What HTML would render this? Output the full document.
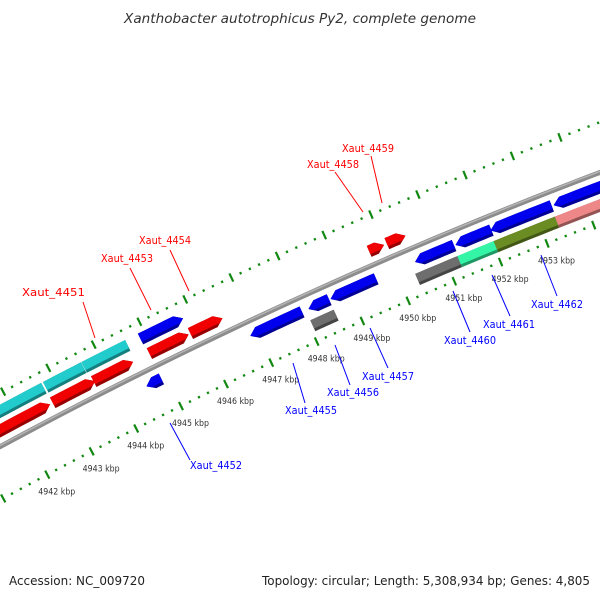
<!DOCTYPE html>
<html><head><meta charset="utf-8"><style>
html,body{margin:0;padding:0;background:#fff;width:600px;height:600px;overflow:hidden}
svg{display:block}
text{font-family:"DejaVu Sans","Liberation Sans",sans-serif}
</style></head><body>
<svg id="map" width="600" height="600" viewBox="0 0 600 600" xmlns="http://www.w3.org/2000/svg">
<rect width="600" height="600" fill="#fff"/>
<text x="300" y="23" text-anchor="middle" font-style="italic" font-size="13" fill="#333" textLength="352" lengthAdjust="spacingAndGlyphs">Xanthobacter autotrophicus Py2, complete genome</text>
<g id="ticks"></g>
<g id="backbone"></g>
<g id="features"></g>
<g id="labels"></g>
<text x="9" y="585" font-size="12" fill="#222" textLength="136" lengthAdjust="spacingAndGlyphs">Accession: NC_009720</text>
<text x="262" y="585" font-size="12" fill="#222" textLength="328" lengthAdjust="spacingAndGlyphs">Topology: circular; Length: 5,308,934 bp; Genes: 4,805</text>
</svg>
<script>
// ---- data (kbp) ----
const featStart = [4940.5, 4942.76, 4943.67, 4944.9, 4945.8, 4949.68, 4950.06,
                   4940.5, 4942.78, 4943.63, 4944.87,
                   4944.56, 4946.85, 4948.12, 4948.6, 4950.43, 4951.3, 4952.05, 4953.4,
                   4948.06, 4950.34, 4951.25, 4952.03, 4953.34];
const featEnd   = [4942.7, 4943.7, 4944.54, 4945.76, 4946.5, 4950.0, 4950.46,
                   4942.74, 4943.62, 4944.59, 4945.8,
                   4944.89, 4947.98, 4948.57, 4949.59, 4951.27, 4952.07, 4953.36, 4955.0,
                   4948.57, 4951.25, 4952.03, 4953.34, 4955.0];
const featRow   = [1,1,1,1,1,1,1, 2,2,2,2, -1,-1,-1,-1,-1,-1,-1,-1, -2,-2,-2,-2,-2];
const featArrow = [1,1,1,1,1,1,1, 0,0,0,1, 1,1,1,1,1,1,1,1, 0,0,0,0,0];
const featColor = ["#f00000","#f00000","#f00000","#f00000","#f00000","#f00000","#f00000",
                   "#22cccc","#22cccc","#22cccc","#0000ee",
                   "#0000ee","#0000ee","#0000ee","#0000ee","#0000ee","#0000ee","#0000ee","#0000ee",
                   "#6e6e6e","#6e6e6e","#33f5a5","#6b8c23","#ee8888"];
const tickLabels = [4942,4943,4944,4945,4946,4947,4948,4949,4950,4951,4952,4953];
const tickRange = [4939, 4956];

const fwdLabels = [["Xaut_4451",22,296,83,302,95,338],["Xaut_4453",101,262,130,268,151,310],
  ["Xaut_4454",139,244,170,250,189,291],["Xaut_4458",307,168,335,172,363,212],["Xaut_4459",342,152,371,156,382,203]];
const revLabels = [["Xaut_4452",190,469,170,423,190,460],["Xaut_4455",285,414,293,363,305,403],
  ["Xaut_4456",327,396,335,345,350,385],["Xaut_4457",362,380,370,328,388,368],
  ["Xaut_4460",444,344,453,291,470,332],["Xaut_4461",483,328,492,275,510,316],["Xaut_4462",531,308,541,255,557,296]];

// ---- geometry ----
const NS="http://www.w3.org/2000/svg";
const CX=2365, CY=4827, K0=4945, A0=-116.29, DPK=0.582;
const R_BB=4978, R_OUT=5025, R_IN=4931, HALF=6, HEAD=0.16;
const rowR = {1:4992, 2:5009, "-1":4964, "-2":4947};
function pt(k,r){const a=(A0+(k-K0)*DPK)*Math.PI/180;return [CX+r*Math.cos(a),CY+r*Math.sin(a)];}
function mk(tag,attrs,parent){const e=document.createElementNS(NS,tag);for(const a in attrs)e.setAttribute(a,attrs[a]);parent.appendChild(e);return e;}
function arcPts(k1,k2,r,n){const o=[];for(let i=0;i<=n;i++)o.push(pt(k1+(k2-k1)*i/n,r));return o;}
function shade(c,f){const n=parseInt(c.slice(1),16);let r=(n>>16)&255,g=(n>>8)&255,b=n&255;r=Math.round(r*f);g=Math.round(g*f);b=Math.round(b*f);return "rgb("+r+","+g+","+b+")";}

// ticks
const tg=document.getElementById('ticks');
[R_OUT,R_IN].forEach(function(r){
  for(let i=Math.round(tickRange[0]*5);i<=Math.round(tickRange[1]*5);i++){
    const k=i/5, major=(i%5===0);
    const len=major?4.5:1.2;
    const a=pt(k,r-len), b=pt(k,r+len);
    const ln=mk('line',{x1:a[0],y1:a[1],x2:b[0],y2:b[1],stroke:'#118811','stroke-width':2.2},tg);
    
    
  }
});
tickLabels.forEach(function(k){
  const p=pt(k,R_IN);
  const t=mk('text',{x:p[0]-9,y:p[1]+20,'font-size':9,fill:'#333',textLength:37,lengthAdjust:'spacingAndGlyphs'},tg);
  t.textContent=k+" kbp";
  
  
});

// backbone
const bg=document.getElementById('backbone');
const bbP=arcPts(tickRange[0],tickRange[1],R_BB,40).map(p=>p.join(',')).join(' ');
const bb=mk('polyline',{points:bbP,fill:'none',stroke:'#8c8c8c','stroke-width':5},bg);


const bbH=mk('polyline',{points:arcPts(tickRange[0],tickRange[1],R_BB+1,40).map(p=>p.join(',')).join(' '),fill:'none',stroke:'#b4b4b4','stroke-width':1.5},bg);



// features
function shapePts(k1,k2,rMid,ri,ro,dir,arrow){
  const h=arrow?Math.min(HEAD,(k2-k1)):0;
  function endAt(rho){ if(!arrow)return dir>0?k2:k1; const f=Math.abs(rho-rMid)/HALF; return dir>0?k2-h*f:k1+h*f;}
  function startAt(){return dir>0?k1:k2;}
  let pts=[];
  if(dir>0){
    pts=pts.concat(arcPts(k1,endAt(ro),ro,8));
    if(arrow&&rMid<ro&&rMid>ri)pts.push(pt(k2,rMid));
    pts=pts.concat(arcPts(endAt(ri),k1,ri,8));
  }else{
    pts=pts.concat(arcPts(endAt(ro),k2,ro,8));
    pts=pts.concat(arcPts(k2,endAt(ri),ri,8));
    if(arrow&&rMid<ro&&rMid>ri)pts.push(pt(k1,rMid));
  }
  return pts.map(p=>p[0].toFixed(2)+','+p[1].toFixed(2)).join(' ');
}
const fg=document.getElementById('features');
for(let i=0;i<featStart.length;i++){
  const row=featRow[i], r=rowR[row], dir=row>0?1:-1;
  const g=mk('g',{},fg);
  
  
  const base=mk('polygon',{points:shapePts(featStart[i],featEnd[i],r,r-HALF,r+HALF,dir,featArrow[i]),fill:shade(featColor[i],0.62)},g);
  
  
  const top=mk('polygon',{points:shapePts(featStart[i],featEnd[i],r,r-HALF+3,r+HALF,dir,featArrow[i]),fill:featColor[i]},g);
  
  
}

// labels
const lg=document.getElementById('labels');
function addLabel(d,color){
  const l=mk('line',{x1:d[3],y1:d[4],x2:d[5],y2:d[6],stroke:color,'stroke-width':1},lg);
  
  
  const t=mk('text',{x:d[1],y:d[2],'font-size':11,fill:color,textLength:d[0]==="Xaut_4451"?63:52,lengthAdjust:'spacingAndGlyphs'},lg);
  t.textContent=d[0];
  
  
}
fwdLabels.forEach(d=>addLabel(d,'#ff0000'));
revLabels.forEach(d=>addLabel(d,'#0000ff'));
</script>
</body></html>
